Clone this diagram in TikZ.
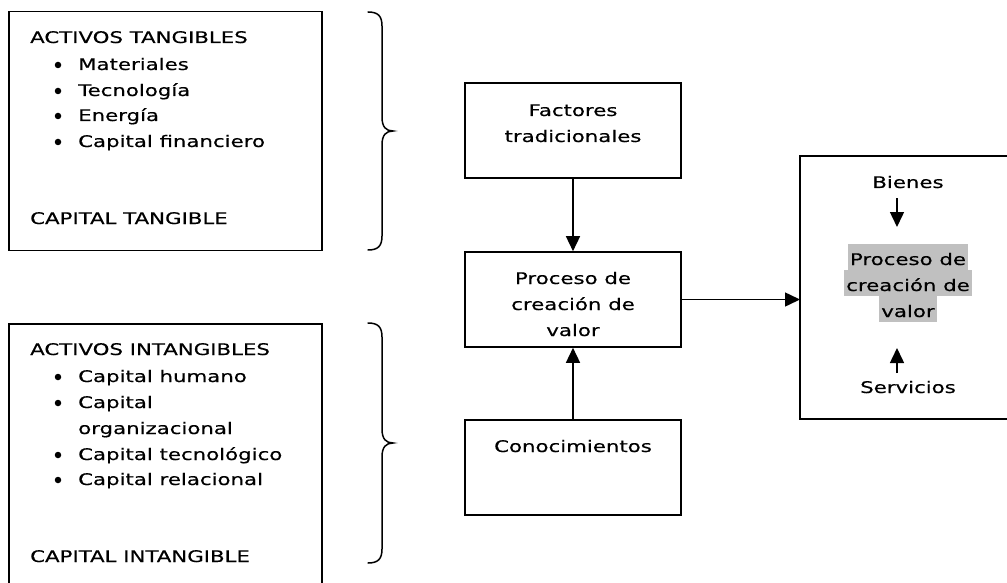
\documentclass[tikz,border=0pt]{standalone}
\usepackage{fontspec}
\setmainfont{DejaVu Sans}[FakeStretch=1.33, FakeBold=0.4]
\usetikzlibrary{arrows.meta}
\definecolor{hlgray}{HTML}{C0C0C0}
\begin{document}
\begin{tikzpicture}[x=1pt,y=-1pt,
  every node/.style={font=\fontsize{16pt}{26pt}\selectfont, inner sep=0pt},
  frame/.style={draw, line width=1.6pt, rectangle},
  openframe/.style={line width=1.6pt, line join=miter},
  txt/.style={anchor=base west},
  ctxt/.style={anchor=base},
  dot/.style={circle, fill, minimum size=6.5pt},
  arr/.style={line width=1.5pt, -{Triangle[length=15pt,width=14pt]}},
  brace/.style={line width=1.5pt, line cap=round},
  hl/.style={anchor=base, fill=hlgray, text height=21pt, text depth=5pt, inner xsep=2pt}]
\useasboundingbox (0,0) rectangle (1007,583);
\fill[white] (0,0) rectangle (1007,583);

% tangible assets
\node[frame, minimum width=313pt, minimum height=239pt] (tang) at (165.5,131) {};
\node[txt] (tA) at (30,43) {ACTIVOS TANGIBLES};
\node[dot] (b1) at (58,65) {};  \node[txt] (t1) at (78,70) {Materiales};
\node[dot] (b2) at (58,91) {};  \node[txt] (t2) at (78,96) {Tecnología};
\node[dot] (b3) at (58,116) {}; \node[txt] (t3) at (78,121) {Energía};
\node[dot] (b4) at (58,142) {}; \node[txt] (t4) at (78,147) {Capital financiero};
\node[txt] (tZ) at (30,224) {CAPITAL TANGIBLE};

% intangible assets: the box is open at the bottom edge
\coordinate (iSW) at (9,584);
\coordinate (iNW) at (9,324);
\coordinate (iNE) at (322,324);
\coordinate (iSE) at (322,584);
\draw[openframe] (iSW) -- (iNW) -- (iNE) -- (iSE);
\node[txt] (iA) at (30,355) {ACTIVOS INTANGIBLES};
\node[dot] (c1) at (58,377) {}; \node[txt] (i1) at (78,382) {Capital humano};
\node[dot] (c2) at (58,403) {}; \node[txt] (i2) at (78,408) {Capital};
\node[txt] (i2b) at (78,434) {organizacional};
\node[dot] (c3) at (58,455) {}; \node[txt] (i3) at (78,460) {Capital tecnológico};
\node[dot] (c4) at (58,480) {}; \node[txt] (i4) at (78,485) {Capital relacional};
\node[txt] (iZ) at (30,562) {CAPITAL INTANGIBLE};

% curly braces
\draw[brace] (368,12) .. controls (378,12) and (382,16) .. (382,26) -- (382,117)
  .. controls (382,127) and (386,131) .. (393,131)
  .. controls (386,131) and (382,135) .. (382,145) -- (382,236)
  .. controls (382,246) and (378,250) .. (368,250);
\draw[brace] (368,323) .. controls (378,323) and (382,327) .. (382,337) -- (382,429)
  .. controls (382,439) and (386,443) .. (393,443)
  .. controls (386,443) and (382,447) .. (382,457) -- (382,549)
  .. controls (382,559) and (378,563) .. (368,563);

% central column
\node[frame, minimum width=216pt, minimum height=95pt] (fact) at (573,130.5) {};
\node[ctxt] (f1) at (573,116) {Factores};
\node[ctxt] (f2) at (573,142) {tradicionales};

\node[frame, minimum width=216pt, minimum height=95pt] (proc) at (573,299.5) {};
\node[ctxt] (p1) at (573,284) {Proceso de};
\node[ctxt] (p2) at (573,310) {creación de};
\node[ctxt] (p3) at (573,336) {valor};

\node[frame, minimum width=216pt, minimum height=95pt] (conoc) at (573,467.5) {};
\node[ctxt] (k1) at (573,452) {Conocimientos};

% result box: open on the right, at the page edge
\coordinate (rNE) at (1008,156);
\coordinate (rNW) at (800,156);
\coordinate (rSW) at (800,419);
\coordinate (rSE) at (1008,419);
\coordinate (rW) at (800,299.5);
\draw[openframe] (rNE) -- (rNW) -- (rSW) -- (rSE);
\node[ctxt] (bien) at (908,188) {Bienes};
\node[hl] (h1) at (908,265) {Proceso de};
\node[hl] (h2) at (908,291) {creación de};
\node[hl] (h3) at (908,317) {valor};
\node[ctxt] (serv) at (908,393) {Servicios};

% connectors
\draw[arr] (fact.south) -- (proc.north);
\draw[arr] (conoc.north) -- (proc.south);
\draw[arr] (proc.east) -- (rW);
\coordinate (bA) at (897,198);
\coordinate (bB) at (897,227);
\coordinate (sA) at (897,373);
\coordinate (sB) at (897,348);
\draw[arr] (bA) -- (bB);
\draw[arr] (sA) -- (sB);
\end{tikzpicture}
\end{document}
